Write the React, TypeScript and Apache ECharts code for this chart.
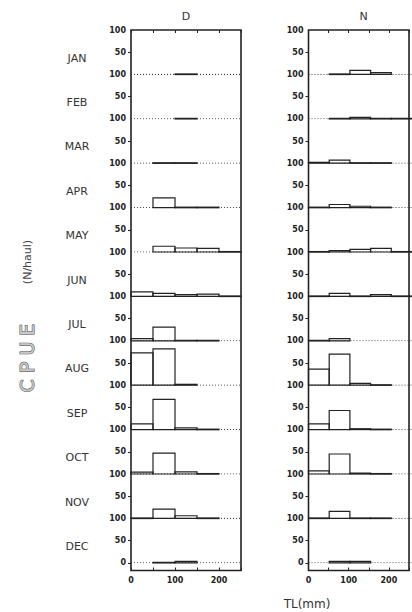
import React, { useEffect, useRef } from "react";
import * as echarts from "echarts";

const months = ["JAN", "FEB", "MAR", "APR", "MAY", "JUN", "JUL", "AUG", "SEP", "OCT", "NOV", "DEC"];
const columnTitles = ["D", "N"];
const binEdges = [0, 50, 100, 150, 200, 250];
const xTickLabels = [0, 100, 200];
const yTickLabels = [50, 100];

// CPUE (N/haul) per 50 mm TL class; null = no catch (dotted baseline)
const dayCPUE: (number | null)[][] = [
  [null, null, 1, null, null],
  [null, null, 1, null, null],
  [null, 1, 1, null, null],
  [null, 22, 1, 1, null],
  [null, 13, 9, 8, 1],
  [10, 7, 4, 5, 1],
  [5, 31, 1, 1, null],
  [73, 82, 2, null, null],
  [13, 68, 4, 1, null],
  [4, 47, 5, 1, null],
  [1, 21, 6, 1, null],
  [null, 1, 3, null, null],
];
const nightCPUE: (number | null)[][] = [
  [null, 1, 9, 4, null],
  [null, 1, 3, 1, 1],
  [2, 7, 1, 1, null],
  [1, 7, 3, 1, null],
  [1, 3, 6, 8, 1],
  [1, 7, 1, 4, 1],
  [1, 5, null, null, null],
  [36, 70, 4, 1, null],
  [13, 43, 2, 1, null],
  [7, 45, 2, 1, null],
  [1, 16, 1, 1, null],
  [null, 3, 3, null, null],
];

const INK = "#222";
const colLeft = [131, 308.5];
const colWidth = 110;
const top0 = 30;
const panelH = 44.4;
const frameBottom = 570.5;
const numFont = "DejaVu Sans";

export default function App() {
  const ref = useRef<HTMLDivElement>(null);
  useEffect(() => {
    if (!ref.current) return;
    const chart = echarts.init(ref.current, undefined, { renderer: "svg" });
    const grids: any[] = [];
    const xAxes: any[] = [];
    const yAxes: any[] = [];
    const series: any[] = [];
    const cols = [dayCPUE, nightCPUE];
    const xMax = binEdges[binEdges.length - 1];

    cols.forEach((rows, c) => {
      rows.forEach((row, m) => {
        const gi = grids.length;
        grids.push({ left: colLeft[c], width: colWidth, top: top0 + m * panelH, height: panelH, containLabel: false });
        xAxes.push({ gridIndex: gi, type: "value", min: 0, max: xMax, show: false });
        const isLast = m === rows.length - 1;
        yAxes.push({
          gridIndex: gi,
          type: "value",
          min: 0,
          max: 100,
          interval: 50,
          axisLine: { show: false },
          splitLine: { show: false },
          axisTick: { show: true, customValues: isLast ? [0, 50] : [50], length: 3, lineStyle: { color: INK, width: 1 } },
          axisLabel: {
            margin: 5,
            fontSize: 8,
            fontWeight: "bold",
            fontFamily: numFont,
            color: INK,
            formatter: (v: number) => (yTickLabels.includes(v) || (isLast && v === 0) ? String(v) : ""),
          },
        });
        series.push({
          type: "line",
          xAxisIndex: gi,
          yAxisIndex: gi,
          data: [[0, 0], [xMax, 0]],
          symbol: "none",
          silent: true,
          lineStyle: { color: "#333", width: 1, type: [1, 2] },
          z: 1,
        });
        const bars: number[][] = [];
        row.forEach((v, i) => {
          if (v !== null) bars.push([binEdges[i], binEdges[i + 1], v]);
        });
        series.push({
          type: "custom",
          xAxisIndex: gi,
          yAxisIndex: gi,
          encode: { x: [0, 1], y: 2 },
          data: bars,
          z: 3,
          renderItem: (_p: any, api: any) => {
            const a = api.coord([api.value(0), api.value(2)]);
            const b = api.coord([api.value(1), 0]);
            return {
              type: "rect",
              shape: { x: a[0], y: a[1], width: b[0] - a[0], height: Math.max(b[1] - a[1], 0.6) },
              style: { fill: "rgba(0,0,0,0)", stroke: INK, lineWidth: 1.2 },
            };
          },
        });
      });
    });

    // frame grids
    cols.forEach((_rows, c) => {
      const gi = grids.length;
      grids.push({
        left: colLeft[c],
        width: colWidth,
        top: top0,
        height: frameBottom - top0,
        show: true,
        borderColor: INK,
        borderWidth: 1.6,
        backgroundColor: "rgba(0,0,0,0)",
      });
      xAxes.push({
        gridIndex: gi,
        type: "value",
        position: "bottom",
        min: 0,
        max: xMax,
        interval: 50,
        axisLine: { show: false },
        splitLine: { show: false },
        axisTick: { show: true, inside: true, length: 3, lineStyle: { color: INK } },
        axisLabel: {
          margin: 6,
          fontSize: 8,
          fontWeight: "bold",
          fontFamily: numFont,
          color: INK,
          formatter: (v: number) => (xTickLabels.includes(v) ? String(v) : ""),
        },
      });
      xAxes.push({
        gridIndex: gi,
        type: "value",
        position: "top",
        min: 0,
        max: xMax,
        interval: 50,
        axisLine: { show: false },
        splitLine: { show: false },
        axisTick: { show: true, inside: true, length: 3, lineStyle: { color: INK } },
        axisLabel: { show: false },
      });
      yAxes.push({ gridIndex: gi, type: "value", min: 0, max: 1, show: false });
    });

    const graphic: any[] = [];
    months.forEach((mo, m) => {
      graphic.push({
        type: "text",
        x: 77,
        y: top0 + m * panelH + 28,
        style: { text: mo, fontSize: 11, fontFamily: "DejaVu Sans", fill: "#333", align: "center", verticalAlign: "middle" },
      });
    });
    columnTitles.forEach((t, c) => {
      graphic.push({
        type: "text",
        x: colLeft[c] + 55,
        y: 16,
        style: { text: t, fontSize: 11, fontFamily: "DejaVu Sans", fill: "#333", align: "center", verticalAlign: "middle" },
      });
    });
    graphic.push({
      type: "text",
      x: 307,
      y: 604,
      style: { text: "TL(mm)", fontSize: 12, fontFamily: "DejaVu Sans", fill: "#333", align: "center", verticalAlign: "middle" },
    });
    graphic.push({
      type: "text",
      x: 27,
      y: 358,
      rotation: Math.PI / 2,
      style: {
        text: "C P U E",
        fontSize: 19,
        fontFamily: "DejaVu Sans",
        fill: "#c8c8c8",
        stroke: "#444",
        lineWidth: 1,
        align: "center",
        verticalAlign: "middle",
      },
    });
    graphic.push({
      type: "text",
      x: 27,
      y: 262,
      rotation: Math.PI / 2,
      style: { text: "(N/haul)", fontSize: 11, fontFamily: "DejaVu Sans", fill: "#444", align: "center", verticalAlign: "middle" },
    });

    chart.setOption({
      animation: false,
      backgroundColor: "#fff",
      grid: grids,
      xAxis: xAxes,
      yAxis: yAxes,
      series,
      graphic,
    });
    return () => chart.dispose();
  }, []);
  return <div ref={ref} style={{ position: "fixed", left: 0, top: 0, width: 412, height: 612 }} />;
}
